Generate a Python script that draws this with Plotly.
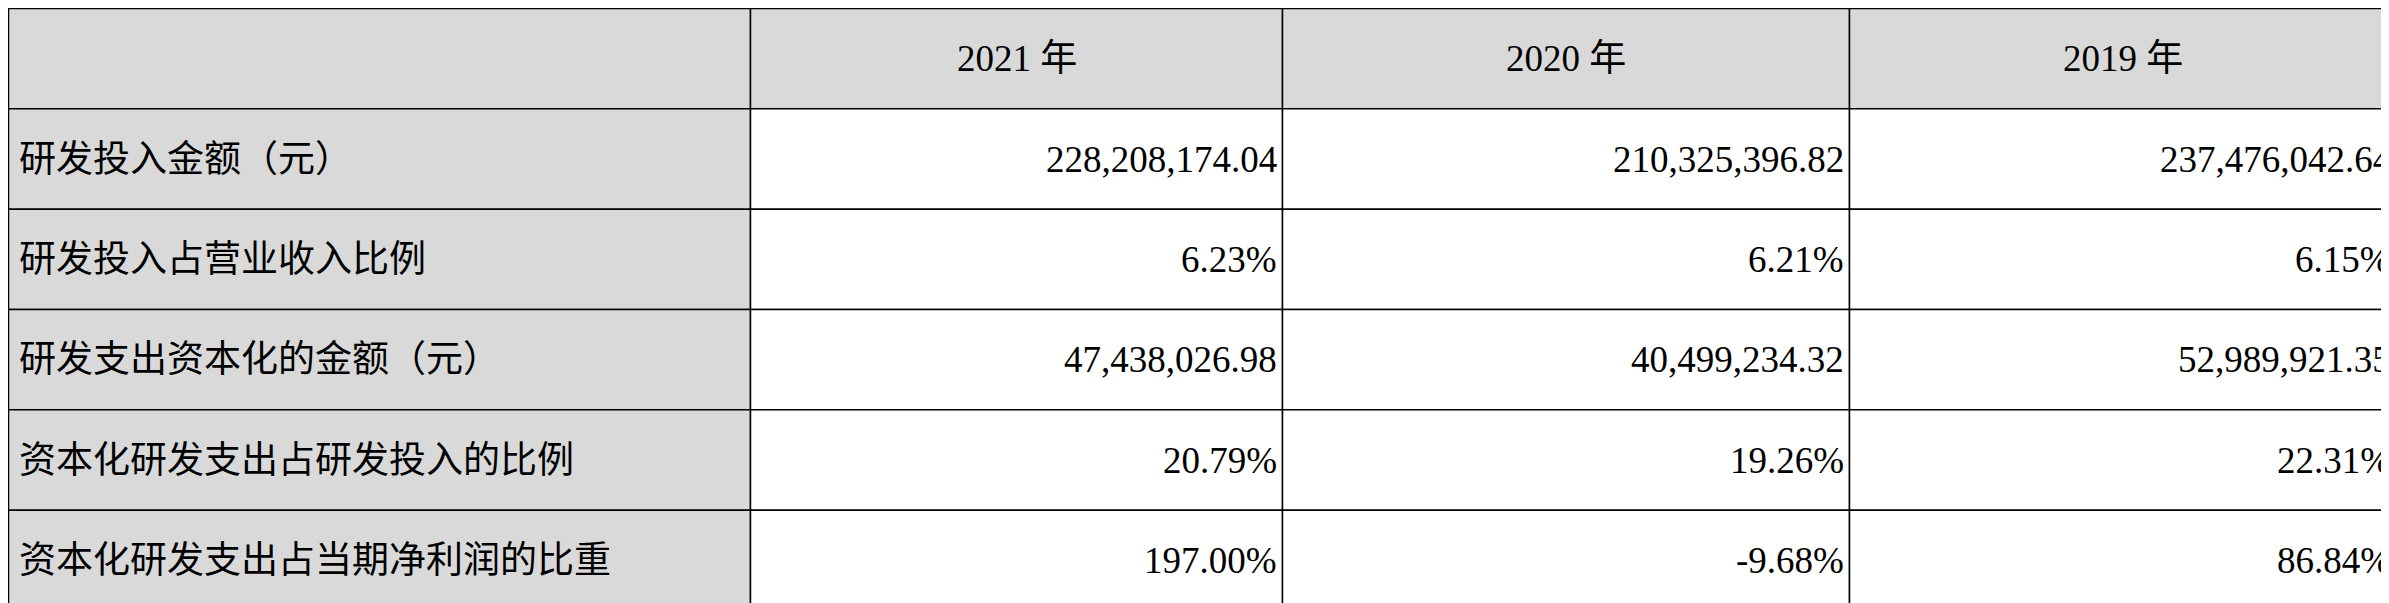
import plotly.graph_objects as go

headers = ["", "2021 年", "2020 年", "2019 年"]
items = ["研发投入金额（元）", "研发投入占营业收入比例", "研发支出资本化的金额（元）",
         "资本化研发支出占研发投入的比例", "资本化研发支出占当期净利润的比重"]
y2021 = ["228,208,174.04", "6.23%", "47,438,026.98", "20.79%", "197.00%"]
y2020 = ["210,325,396.82", "6.21%", "40,499,234.32", "19.26%", "-9.68%"]
y2019 = ["237,476,042.64", "6.15%", "52,989,921.35", "22.31%", "86.84%"]

W, H = 2389, 603
col_w = [742, 532, 567, 548]
xs = [0]
for w in col_w:
    xs.append(xs[-1] + w)
nrows = len(items) + 1
rh = (H - 1) / nrows
gray = "#d9d9d9"
font = dict(family="Liberation Serif, Noto Sans CJK SC", size=37, color="black")

columns = [items, y2021, y2020, y2019]
rows = [headers] + [[c[i] for c in columns] for i in range(len(items))]

shapes, annots = [], []
for r, row in enumerate(rows):
    y0, y1 = 0.5 + r * rh, 0.5 + (r + 1) * rh
    for c, txt in enumerate(row):
        x0, x1 = xs[c] + 0.5, min(xs[c + 1], W - 1) + 0.5
        fill = gray if (r == 0 or c == 0) else "white"
        shapes.append(dict(type="rect", x0=x0, x1=x1, y0=y0, y1=y1, fillcolor=fill,
                           line=dict(color="black", width=1.5), layer="below"))
        if txt:
            if r == 0:
                ax, xa = (x0 + x1) / 2, "center"
            elif c == 0:
                ax, xa = x0 + 8, "left"
            else:
                ax, xa = x1 - 4, "right"
            annots.append(dict(x=ax, y=(y0 + y1) / 2, text=txt, showarrow=False,
                               xanchor=xa, yanchor="middle", font=font))

fig = go.Figure()
fig.update_layout(width=W, height=H, margin=dict(l=0, r=0, t=0, b=0),
                  paper_bgcolor="white", plot_bgcolor="white",
                  xaxis=dict(range=[0, W], visible=False, fixedrange=True),
                  yaxis=dict(range=[H, 0], visible=False, fixedrange=True),
                  shapes=shapes, annotations=annots, showlegend=False)
fig.write_html("out.html")
